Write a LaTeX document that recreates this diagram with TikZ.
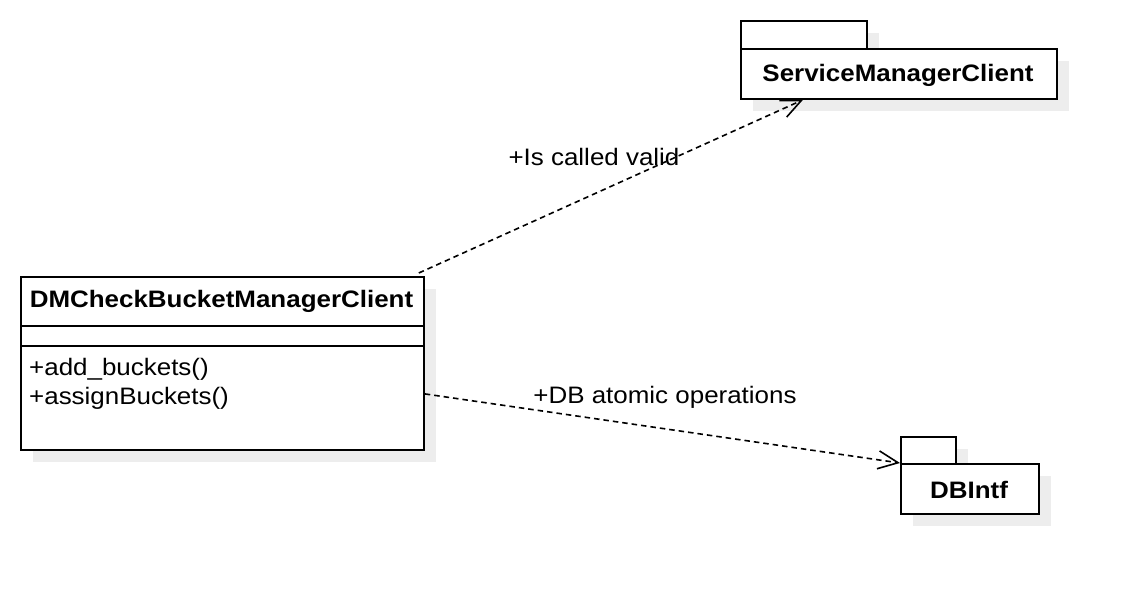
\documentclass[tikz,border=0pt]{standalone}
\usepackage{fontspec}
\setmainfont{Liberation Sans}[FakeStretch=1.09]
\usetikzlibrary{arrows.meta}
\begin{document}
\begin{tikzpicture}[x=1pt,y=-1pt,
  box/.style={draw=black, fill=white, line width=1.8pt, inner sep=0pt, anchor=north west},
  shade/.style={fill=black!7, draw=none},
  dep/.style={draw=black, dash pattern=on 5.5pt off 4pt, line width=1.6pt, -{Straight Barb[length=20pt,width=18pt]}},
  lbl/.style={font=\fontsize{23.8}{28}\selectfont, inner sep=0pt}]
\useasboundingbox (0,0) rectangle (1134,594);
\fill[white] (0,0) rectangle (1134,594);
% shadows
\fill[shade] (33,289) rectangle (436,462);
\fill[shade] (753,33) rectangle (879,61);
\fill[shade] (753,61) rectangle (1069,111);
\fill[shade] (913,449) rectangle (968,476);
\fill[shade] (913,476) rectangle (1051,526);
% class
\node[box, minimum width=403pt, minimum height=173pt] (dm) at (20,276) {};
\draw[line width=1.8pt] (20,326) -- (423,326);
\draw[line width=1.8pt] (20,346) -- (423,346);
\node[lbl] (dmname) at (221.5,301) {\textbf{DMCheckBucketManagerClient}};
\node[lbl, anchor=west] (m1) at (29,369) {+add\_buckets()};
\node[lbl, anchor=west] (m2) at (29,398) {+assignBuckets()};
% package ServiceManagerClient
\node[box, minimum width=126pt, minimum height=28pt] (smtab) at (740,20) {};
\node[box, minimum width=316pt, minimum height=50pt] (smc) at (740,48) {};
\node[lbl] (smcname) at (898,75) {\textbf{ServiceManagerClient}};
% package DBIntf
\node[box, minimum width=55pt, minimum height=27pt] (dbtab) at (900,436) {};
\node[box, minimum width=138pt, minimum height=50pt] (db) at (900,463) {};
\node[lbl] (dbname) at (969,490) {\textbf{DBIntf}};
% dependencies
\draw[dep] ([xshift=-6pt,yshift=3pt]dm.north east) -- ([xshift=63pt]smc.south west);
\draw[dep] ([yshift=-30.5pt]dm.east) -- (db.north west);
\node[lbl] (l1) at (594,157) {+Is called valid};
\node[lbl] (l2) at (665,397) {+DB atomic operations};
\end{tikzpicture}
\end{document}
